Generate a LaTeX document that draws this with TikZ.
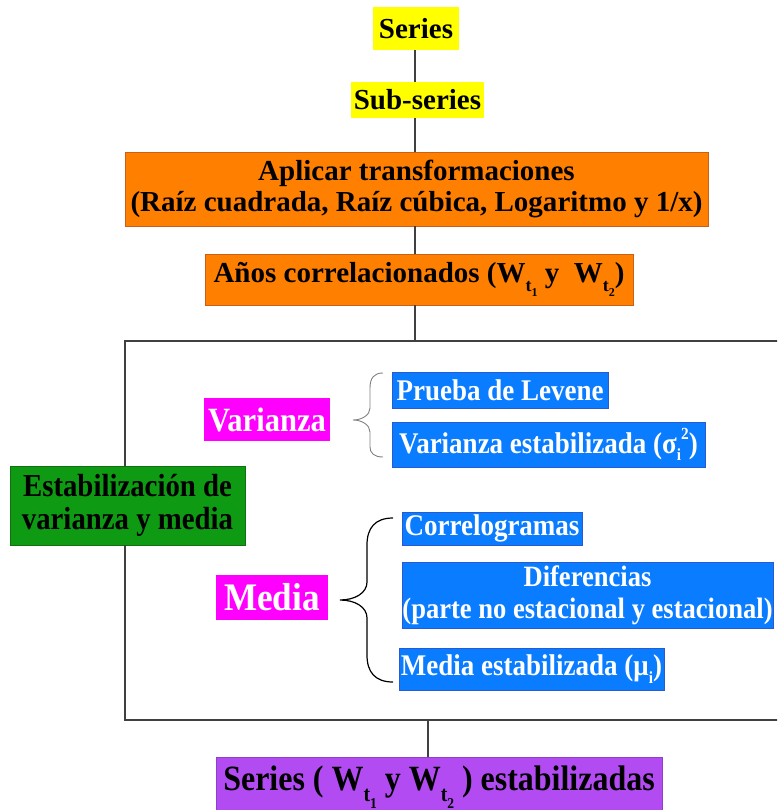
\documentclass[tikz,border=0pt]{standalone}
\usepackage{fontspec}
\setmainfont{Liberation Serif}
% a narrower cut of the same family for the lower boxes
\newfontfamily\cond{Liberation Serif}[FakeStretch=0.9]
% font size helper: \fs{size}{baselineskip}
\newcommand\fs[2]{\fontsize{#1}{#2}\selectfont}
% W with a two-level subscript t_k
\newcommand\Wsub[2]{W\raisebox{-0.32em}{\fontsize{#1}{#1}\selectfont t\raisebox{-0.3em}{\fontsize{\numexpr#1*2/3\relax}{1}\selectfont #2}}}
\definecolor{cyellow}{HTML}{FFFF00}
\definecolor{corange}{HTML}{FF8000}
\definecolor{corangeb}{HTML}{C8601A}
\definecolor{cblue}{HTML}{0A7CFF}
\definecolor{cblueb}{HTML}{2A5AD0}
\definecolor{cmag}{HTML}{FF00FF}
\definecolor{cgreen}{HTML}{0E9A12}
\definecolor{cgreenb}{HTML}{107010}
\definecolor{cpurple}{HTML}{B24CF2}
\definecolor{cpurpleb}{HTML}{9040C8}
\definecolor{cline}{HTML}{404040}
\begin{document}
\begin{tikzpicture}[x=1pt,y=-1pt,
  box/.style={inner sep=0pt,align=center},
  tsz/.style 2 args={font=\bfseries\fs{#1}{#2}},
  csz/.style 2 args={font=\cond\bfseries\fs{#1}{#2}},
  ybox/.style={box,fill=cyellow,tsz={29}{33}},
  obox/.style={box,fill=corange,draw=corangeb,line width=0.8pt,tsz={29}{31}},
  bbox/.style={box,fill=cblue,draw=cblueb,line width=0.8pt,text=white,csz={30}{32}},
  mbox/.style={box,fill=cmag,text=white},
  gbox/.style={box,fill=cgreen,draw=cgreenb,line width=0.8pt,csz={32}{33}},
  pbox/.style={box,fill=cpurple,draw=cpurpleb,line width=0.8pt,csz={35.5}{36}},
  link/.style={draw=cline,line width=1.6pt},
  bracesty/.style={draw=black,line width=1.2pt},
  bracethin/.style={draw=gray,line width=0.9pt}]
\useasboundingbox (0,0) rectangle (777,810);
\begin{scope}
\clip (0,0) rectangle (777,810);

% main chain
\node[ybox,minimum width=86pt,minimum height=43pt] (serie) at (416,28.5) {Series};
\node[ybox,minimum width=133pt,minimum height=36pt] (sub) at (417.5,100) {Sub-series};
\node[obox,minimum width=583pt,minimum height=74pt] (aplicar) at (416.5,189)
  {Aplicar transformaciones\\(Raíz cuadrada, Raíz cúbica, Logaritmo y 1/x)};
\node[obox,minimum width=428pt,minimum height=51pt] (anos) at (419,279.5)
  {Años correlacionados (\Wsub{18}{1} y\ \ \Wsub{18}{2})};

% stabilisation block
\node[gbox,minimum width=235pt,minimum height=79pt] (estab) at (127.5,505.5)
  {Estabilización de\\varianza y media};
\node[mbox,csz={34}{36},minimum width=126pt,minimum height=43pt] (var) at (267,419.5) {Varianza};
\node[bbox,minimum width=216pt,minimum height=36pt] (levene) at (500,390) {Prueba de Levene};
\node[bbox,minimum width=313pt,minimum height=45pt] (varest) at (548.5,444.5)
  {Varianza estabilizada (σ\raisebox{-0.25em}{\fontsize{17}{17}\selectfont i}\raisebox{0.45em}{\fontsize{17}{17}\selectfont 2})};
\node[mbox,csz={39}{40},minimum width=112pt,minimum height=45pt] (media) at (272,597.5) {Media};
\node[bbox,minimum width=180pt,minimum height=33pt] (correl) at (492,528.5) {Correlogramas};
\node[bbox,csz={29.5}{32},minimum width=371pt,minimum height=66pt] (dif) at (587.5,595)
  {Diferencias\\(parte no estacional y estacional)};
\node[bbox,minimum width=265pt,minimum height=42pt] (mediaest) at (531.5,669)
  {Media estabilizada (μ\raisebox{-0.25em}{\fontsize{17}{17}\selectfont i})};

% result
\node[pbox,minimum width=446pt,minimum height=60pt] (final) at (439,787)
  {Series ( \Wsub{22}{1} y \Wsub{22}{2} ) estabilizadas};

% connectors of the chain
\coordinate (top) at (415,341);
\coordinate (tl) at (125,341);
\coordinate (tr) at (790,341);
\coordinate (bl) at (125,720);
\coordinate (br) at (790,720);
\coordinate (bm) at (428,720);
\draw[link] (415,0 |- serie.south) -- (415,0 |- sub.north);
\draw[link] (415,0 |- sub.south) -- (415,0 |- aplicar.north);
\draw[link] (415,0 |- aplicar.south) -- (415,0 |- anos.north);
\draw[link] (415,0 |- anos.south) -- (top);
\draw[link] (tr) -- (tl) -- (tl |- estab.north);
\draw[link] (bl |- estab.south) -- (bl) -- (br);
\draw[link] (bm) -- (bm |- final.north);

% braces
\draw[bracethin] (383,373) .. controls (374,373) and (370,378) .. (370,388) -- (370,408)
  .. controls (370,415) and (362,420) .. (353,420)
  .. controls (362,420) and (370,425) .. (370,432) -- (370,447)
  .. controls (370,453) and (374,457) .. (383,457);
\draw[bracesty] (393,518) .. controls (375,518) and (367,528) .. (367,545) -- (367,582)
  .. controls (367,593) and (355,600) .. (340,600)
  .. controls (355,600) and (367,607) .. (367,618) -- (367,655)
  .. controls (367,672) and (375,682) .. (393,682);
\end{scope}
\end{tikzpicture}
\end{document}
